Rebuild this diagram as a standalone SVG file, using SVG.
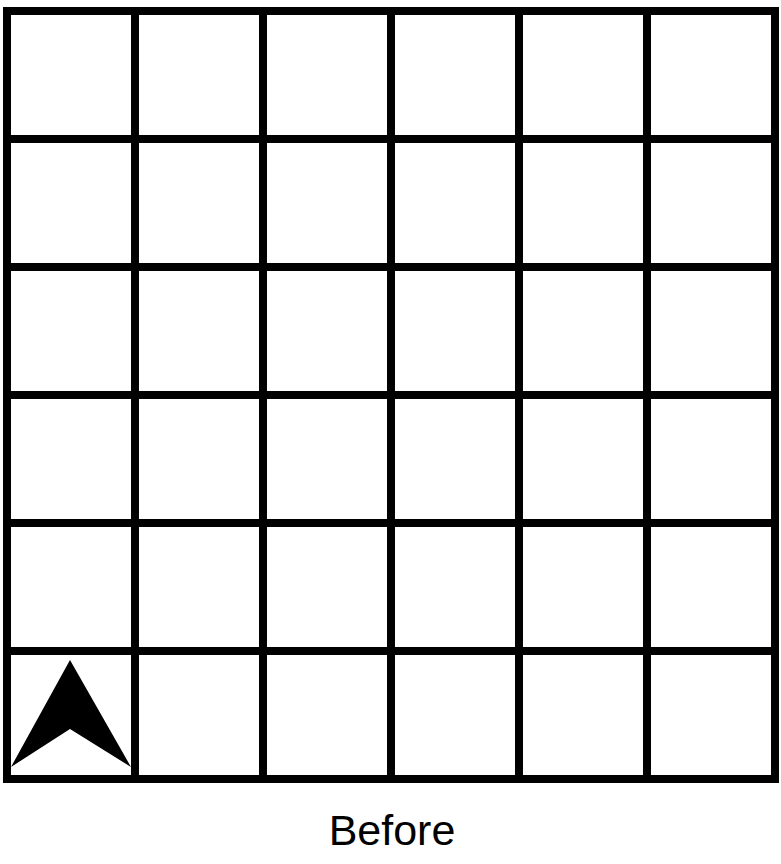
<svg xmlns="http://www.w3.org/2000/svg" width="781" height="864" viewBox="0 0 781 864">
<style>
.grid line{stroke:#000;stroke-width:8;stroke-linecap:square}
.label{font-family:"Liberation Sans",Arial,sans-serif;font-size:43px;fill:#000;text-anchor:middle}
</style>
<rect x="0" y="0" width="781" height="864" fill="#fff"/>
<g id="grid" class="grid">
<line x1="7" y1="11" x2="7" y2="779"/>
<line x1="135" y1="11" x2="135" y2="779"/>
<line x1="263" y1="11" x2="263" y2="779"/>
<line x1="391" y1="11" x2="391" y2="779"/>
<line x1="519" y1="11" x2="519" y2="779"/>
<line x1="647" y1="11" x2="647" y2="779"/>
<line x1="775" y1="11" x2="775" y2="779"/>
<line x1="7" y1="11" x2="775" y2="11"/>
<line x1="7" y1="139" x2="775" y2="139"/>
<line x1="7" y1="267" x2="775" y2="267"/>
<line x1="7" y1="395" x2="775" y2="395"/>
<line x1="7" y1="523" x2="775" y2="523"/>
<line x1="7" y1="651" x2="775" y2="651"/>
<line x1="7" y1="779" x2="775" y2="779"/>
</g>
<g id="robot">
<polygon points="70,660 131,767 70,729 11,767" fill="#000"/>
</g>
<text class="label" x="392" y="845">Before</text>
</svg>
